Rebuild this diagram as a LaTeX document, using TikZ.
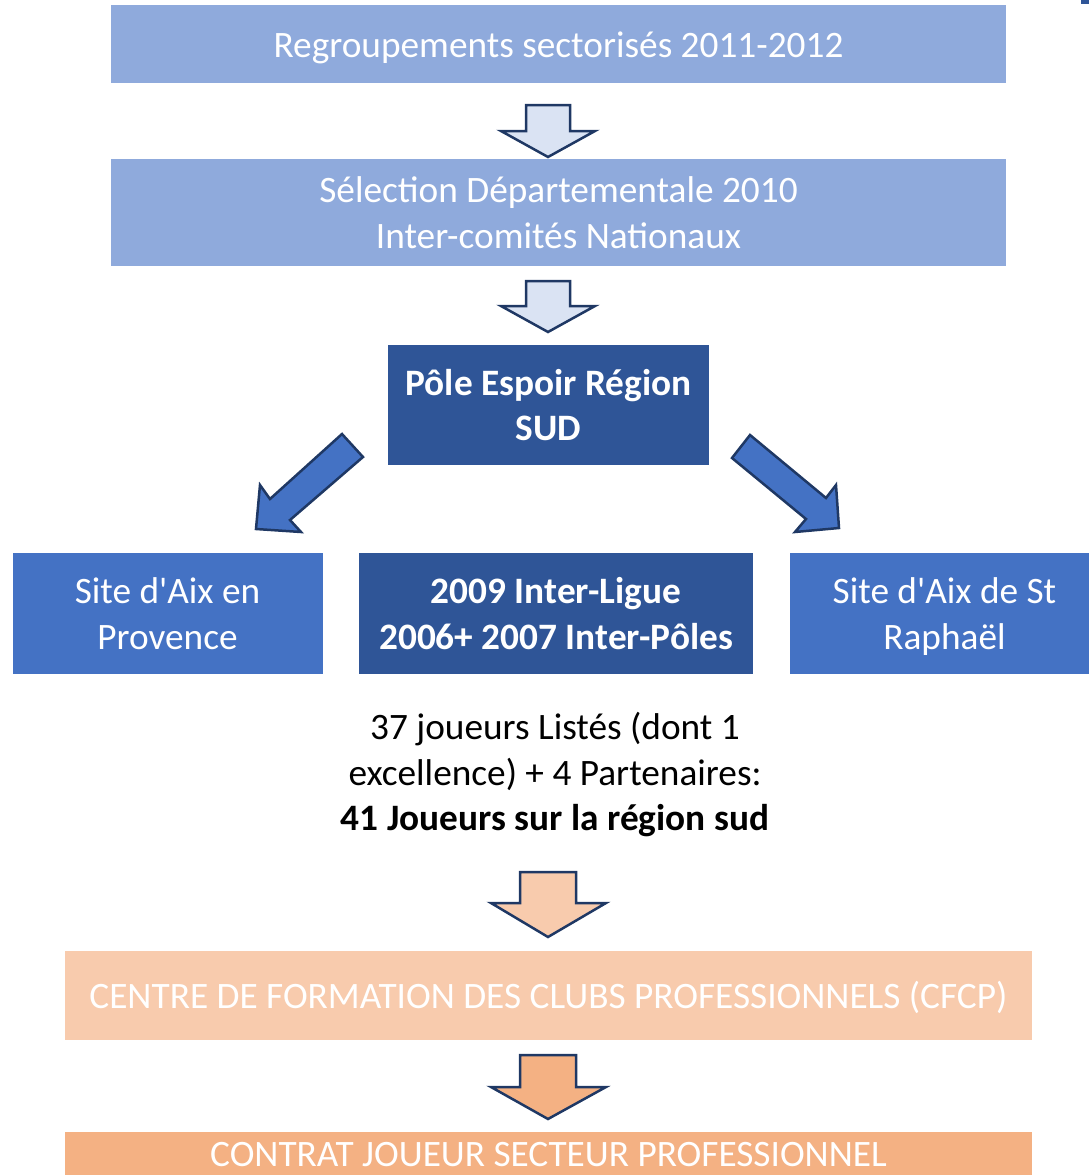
\documentclass[tikz,border=0pt]{standalone}
\usepackage{fontspec}
\setmainfont{Carlito}
\definecolor{lblue}{HTML}{8FAADC}
\definecolor{pblue}{HTML}{DAE3F3}
\definecolor{dblue}{HTML}{2F5597}
\definecolor{mblue}{HTML}{4472C4}
\definecolor{navy}{HTML}{1F3864}
\definecolor{lpeach}{HTML}{F8CBAD}
\definecolor{peach}{HTML}{F4B183}
\newcommand{\bigtxt}{\fontsize{37.3}{45.5}\selectfont}
\newcommand{\tstrut}{\rule[-9.6pt]{0pt}{45.5pt}}
\tikzset{
  box/.style={draw=none, inner sep=0pt, text=white, align=center, font=\bigtxt},
  boldbox/.style={box, font=\bigtxt\bfseries},
  bigarrow/.style={draw=navy, line width=2.5pt, line join=miter},
}
\begin{document}
\begin{tikzpicture}[x=1pt,y=-1pt]
\path[use as bounding box] (0,0) rectangle (1089,1175);
% boxes
\node[box, fill=lblue, minimum width=895pt, minimum height=78pt] (b1) at (558.5,44) {\tstrut Regroupements sectorisés 2011-2012\tstrut};
\node[box, fill=lblue, minimum width=895pt, minimum height=107pt] (b2) at (558.5,212.5) {\tstrut Sélection Départementale 2010\\Inter-comités Nationaux\tstrut};
\node[boldbox, fill=dblue, minimum width=321pt, minimum height=120pt] (pole) at (548.5,405) {\tstrut Pôle Espoir Région\\SUD\tstrut};
\node[box, fill=mblue, minimum width=310pt, minimum height=121pt] (aix) at (167.5,613.5) {\tstrut Site d\textquotesingle Aix en\\Provence\tstrut};
\node[boldbox, fill=dblue, minimum width=394pt, minimum height=121pt] (inter) at (556,613.5) {\tstrut 2009 Inter-Ligue\\2006+ 2007 Inter-Pôles\tstrut};
\node[box, fill=mblue, minimum width=309pt, minimum height=121pt] (raph) at (944.5,613.5) {\tstrut Site d\textquotesingle Aix de St\\Raphaël\tstrut};
\node[box, text=black] (txt) at (555,772) {\tstrut 37 joueurs Listés (dont 1\\excellence) + 4 Partenaires:\\\textbf{41 Joueurs sur la région sud}\tstrut};
\node[box, fill=lpeach, minimum width=967pt, minimum height=89pt] (cfcp) at (548.5,995.5) {\tstrut CENTRE DE FORMATION DES CLUBS PROFESSIONNELS (CFCP)\tstrut};
\node[box, fill=peach, minimum width=967pt, minimum height=50pt, anchor=north] (contrat) at (548.5,1132) {};
\node[box] (contratT) at (548.5,1153) {\tstrut CONTRAT JOUEUR SECTEUR PROFESSIONNEL\tstrut};
% small mark top right
\fill[dblue] (1081,0) rectangle (1089,4);
% block arrows
\draw[bigarrow, fill=pblue] (526,105) -- (570,105) -- (570,131) -- (595,131) -- (548,157) -- (501,131) -- (526,131) -- cycle;
\draw[bigarrow, fill=pblue] (526,281) -- (570,281) -- (570,306) -- (595,306) -- (548,332) -- (501,306) -- (526,306) -- cycle;
\draw[bigarrow, fill=mblue] (342,434) -- (363,457) -- (290,520) -- (301,532) -- (256,529) -- (260,485) -- (270,499) -- cycle;
\draw[bigarrow, fill=mblue] (750,435) -- (826,498) -- (836,485) -- (839,528) -- (795,532) -- (806,519) -- (732,458) -- cycle;
\draw[bigarrow, fill=lpeach] (520,872) -- (576,872) -- (576,903) -- (606,903) -- (548,937) -- (491,903) -- (520,903) -- cycle;
\draw[bigarrow, fill=peach] (520,1055) -- (576,1055) -- (576,1087) -- (606,1087) -- (548,1119) -- (491,1087) -- (520,1087) -- cycle;
\end{tikzpicture}
\end{document}
